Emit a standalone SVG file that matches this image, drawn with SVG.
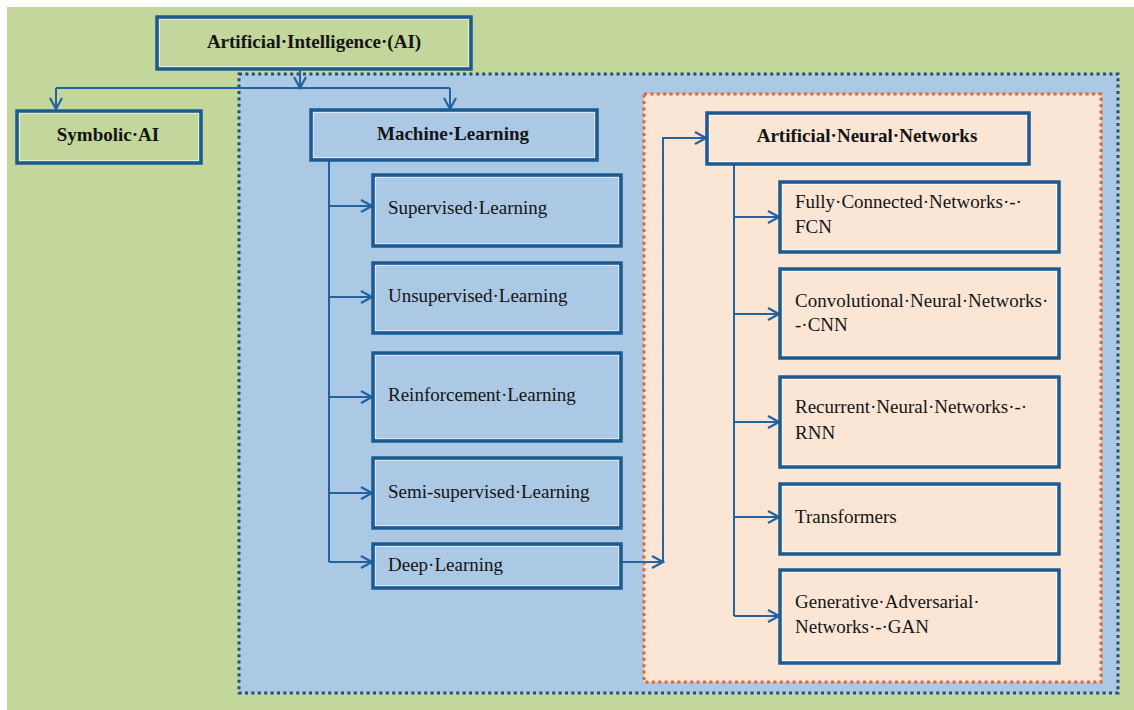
<svg xmlns="http://www.w3.org/2000/svg" width="1134" height="710" viewBox="0 0 1134 710">
  <defs>
    <marker id="arr" markerUnits="userSpaceOnUse" markerWidth="14" markerHeight="14" viewBox="0 0 14 14" refX="12" refY="7" orient="auto">
      <path d="M1,1 L12,7 L1,13" fill="none" stroke="#2563a0" stroke-width="2.2" stroke-linejoin="miter"/>
    </marker>
    <style>
      .box { stroke: #1c5a92; stroke-width: 3.5; }
      .hl { fill: none; stroke: #ffffff; stroke-opacity: 0.55; stroke-width: 1; }
      .g { fill: #c3d69b; }
      .b { fill: #abc9e5; }
      .p { fill: #fbe6d6; }
      .t { font-family: "Liberation Serif", "Times New Roman", serif; font-size: 19px; fill: #141414; }
      .tb { font-weight: bold; text-anchor: middle; }
      .con { fill: none; stroke: #2563a0; stroke-width: 2; }
    </style>
  </defs>

  <rect x="0" y="0" width="1134" height="710" fill="#ffffff"/>
  <rect x="7" y="7" width="1127" height="703" fill="#c3d69b"/>

  <g id="region-ml">
    <rect x="239" y="74" width="879" height="619" fill="#abc9e5" stroke="#1f4e79" stroke-width="3" stroke-dasharray="3 3.4"/>
  </g>
  <g id="region-ann">
    <rect x="644" y="94" width="457" height="588" fill="#fbe6d6" stroke="#ea6130" stroke-width="3" stroke-dasharray="3 3.4"/>
  </g>

  <g id="connectors">
    <path class="con" d="M300 69 V88" marker-end="url(#arr)"/>
    <path class="con" d="M56 88 H450"/>
    <path class="con" d="M56 88 V109" marker-end="url(#arr)"/>
    <path class="con" d="M450 88 V109" marker-end="url(#arr)"/>
    <path class="con" d="M329 160 V562"/>
    <path class="con" d="M329 206 H372" marker-end="url(#arr)"/>
    <path class="con" d="M329 297 H372" marker-end="url(#arr)"/>
    <path class="con" d="M329 397 H372" marker-end="url(#arr)"/>
    <path class="con" d="M329 493 H372" marker-end="url(#arr)"/>
    <path class="con" d="M329 562 H372" marker-end="url(#arr)"/>
    <path class="con" d="M621 562 H663" marker-end="url(#arr)"/>
    <path class="con" d="M663 562 V138 H706" marker-end="url(#arr)"/>
    <path class="con" d="M734 164 V616"/>
    <path class="con" d="M734 217 H779" marker-end="url(#arr)"/>
    <path class="con" d="M734 314 H779" marker-end="url(#arr)"/>
    <path class="con" d="M734 422 H779" marker-end="url(#arr)"/>
    <path class="con" d="M734 517 H779" marker-end="url(#arr)"/>
    <path class="con" d="M734 616 H779" marker-end="url(#arr)"/>
  </g>

  <g id="node-ai">
    <rect class="box g" x="157" y="17" width="314" height="52"/>
    <rect class="hl" x="159.5" y="19.5" width="309" height="47"/>
    <text class="t tb" x="314" y="48">Artificial·Intelligence·(AI)</text>
  </g>
  <g id="node-symbolic">
    <rect class="box g" x="17" y="111" width="184" height="52"/>
    <rect class="hl" x="19.5" y="113.5" width="179" height="47"/>
    <text class="t tb" x="108" y="141">Symbolic·AI</text>
  </g>
  <g id="node-ml">
    <rect class="box b" x="311" y="110" width="286" height="50"/>
    <rect class="hl" x="313.5" y="112.5" width="281" height="45"/>
    <text class="t tb" x="453" y="140">Machine·Learning</text>
  </g>
  <g id="node-supervised">
    <rect class="box b" x="373" y="175" width="248" height="71"/>
    <rect class="hl" x="375.5" y="177.5" width="243" height="66"/>
    <text class="t" x="388" y="214">Supervised·Learning</text>
  </g>
  <g id="node-unsupervised">
    <rect class="box b" x="373" y="263" width="248" height="70"/>
    <rect class="hl" x="375.5" y="265.5" width="243" height="65"/>
    <text class="t" x="388" y="302">Unsupervised·Learning</text>
  </g>
  <g id="node-reinforcement">
    <rect class="box b" x="373" y="353" width="248" height="88"/>
    <rect class="hl" x="375.5" y="355.5" width="243" height="83"/>
    <text class="t" x="388" y="401">Reinforcement·Learning</text>
  </g>
  <g id="node-semi">
    <rect class="box b" x="373" y="458" width="248" height="70"/>
    <rect class="hl" x="375.5" y="460.5" width="243" height="65"/>
    <text class="t" x="388" y="498">Semi-supervised·Learning</text>
  </g>
  <g id="node-deep">
    <rect class="box b" x="373" y="544" width="248" height="44"/>
    <rect class="hl" x="375.5" y="546.5" width="243" height="39"/>
    <text class="t" x="388" y="571">Deep·Learning</text>
  </g>
  <g id="node-ann">
    <rect class="box p" x="707" y="113" width="322" height="51"/>
    <rect class="hl" x="709.5" y="115.5" width="317" height="46"/>
    <text class="t tb" x="867" y="142">Artificial·Neural·Networks</text>
  </g>
  <g id="node-fcn">
    <rect class="box p" x="780" y="182" width="279" height="70"/>
    <rect class="hl" x="782.5" y="184.5" width="274" height="65"/>
    <text class="t" x="795" y="208">Fully·Connected·Networks·-·</text>
    <text class="t" x="795" y="233">FCN</text>
  </g>
  <g id="node-cnn">
    <rect class="box p" x="780" y="269" width="279" height="89"/>
    <rect class="hl" x="782.5" y="271.5" width="274" height="84"/>
    <text class="t" x="795" y="307">Convolutional·Neural·Networks·</text>
    <text class="t" x="795" y="331">-·CNN</text>
  </g>
  <g id="node-rnn">
    <rect class="box p" x="780" y="377" width="279" height="90"/>
    <rect class="hl" x="782.5" y="379.5" width="274" height="85"/>
    <text class="t" x="795" y="413">Recurrent·Neural·Networks·-·</text>
    <text class="t" x="795" y="439">RNN</text>
  </g>
  <g id="node-transformers">
    <rect class="box p" x="780" y="484" width="279" height="70"/>
    <rect class="hl" x="782.5" y="486.5" width="274" height="65"/>
    <text class="t" x="795" y="523">Transformers</text>
  </g>
  <g id="node-gan">
    <rect class="box p" x="780" y="570" width="279" height="93"/>
    <rect class="hl" x="782.5" y="572.5" width="274" height="88"/>
    <text class="t" x="795" y="608">Generative·Adversarial·</text>
    <text class="t" x="795" y="633">Networks·-·GAN</text>
  </g>
</svg>
